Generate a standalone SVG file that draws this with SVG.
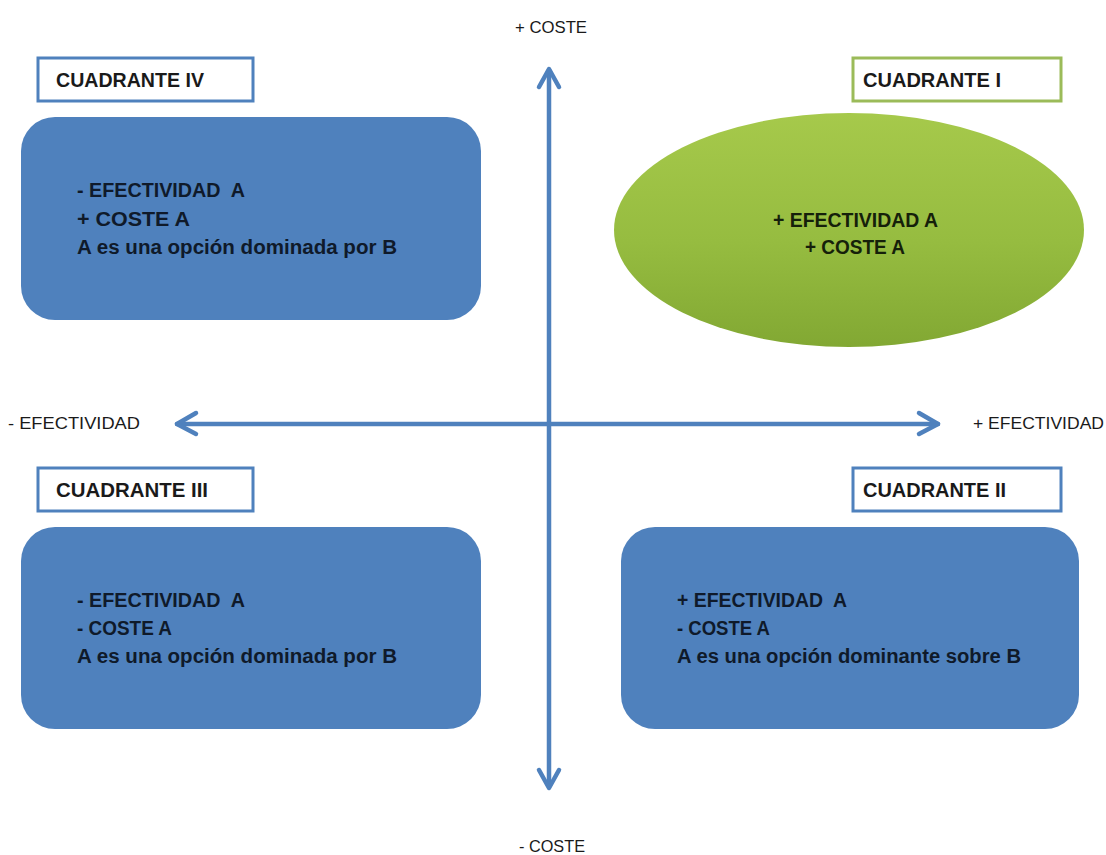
<svg xmlns="http://www.w3.org/2000/svg" width="1106" height="855" viewBox="0 0 1106 855">
  <style>
    .axis { fill: none; stroke: #4f81bd; stroke-width: 4.5; stroke-linecap: round; stroke-linejoin: round; }
    .axis-label { font-family: "Liberation Sans", Arial, sans-serif; font-size: 16.5px; fill: #1a1a1a; }
    .tag { fill: #ffffff; stroke-width: 3; }
    .tag-blue { stroke: #4f81bd; }
    .tag-green { stroke: #9bbb59; }
    .tag-text { font-family: "Liberation Sans", Arial, sans-serif; font-size: 20px; font-weight: bold; fill: #1a1a1a; }
    .panel { fill: #4f81bd; }
    .body { font-family: "Liberation Sans", Arial, sans-serif; font-size: 20px; font-weight: bold; fill: #0f1a2a; }
    .body-green { font-family: "Liberation Sans", Arial, sans-serif; font-size: 20px; font-weight: bold; fill: #15200a; }
  </style>
  <defs>
    <linearGradient id="greenFill" x1="0" y1="0" x2="0" y2="1">
      <stop offset="0" stop-color="#a6c94b"/>
      <stop offset="0.55" stop-color="#96bc40"/>
      <stop offset="1" stop-color="#82a833"/>
    </linearGradient>
  </defs>

  <rect width="1106" height="855" fill="#ffffff"/>

  <!-- axes -->
  <g id="connectors">
    <line class="axis" x1="549" y1="70" x2="549" y2="787"/>
    <polyline class="axis" points="539,87 549,69 559,87"/>
    <polyline class="axis" points="539,770 549,788 559,770"/>
    <line class="axis" x1="177" y1="424" x2="938" y2="424"/>
    <polyline class="axis" points="196,413 177,424 196,434"/>
    <polyline class="axis" points="919,413 938,424 919,434"/>
  </g>

  <!-- axis labels -->
  <g id="axis-labels">
    <text class="axis-label" x="515" y="33" textLength="72" lengthAdjust="spacingAndGlyphs">+ COSTE</text>
    <text class="axis-label" x="519" y="852" textLength="66" lengthAdjust="spacingAndGlyphs">- COSTE</text>
    <text class="axis-label" x="8" y="429" textLength="132" lengthAdjust="spacingAndGlyphs">- EFECTIVIDAD</text>
    <text class="axis-label" x="973" y="429" textLength="131" lengthAdjust="spacingAndGlyphs">+ EFECTIVIDAD</text>
  </g>

  <!-- quadrant IV -->
  <g id="cuadrante-iv">
    <rect class="tag tag-blue" x="38" y="58" width="215" height="43"/>
    <text class="tag-text" x="56" y="87" textLength="148" lengthAdjust="spacingAndGlyphs">CUADRANTE IV</text>
    <rect class="panel" x="21" y="117" width="460" height="203" rx="34"/>
    <text class="body" x="77" y="197" textLength="168" lengthAdjust="spacingAndGlyphs" xml:space="preserve">- EFECTIVIDAD  A</text>
    <text class="body" x="77" y="226" textLength="113" lengthAdjust="spacingAndGlyphs">+ COSTE A</text>
    <text class="body" x="77" y="254" textLength="320" lengthAdjust="spacingAndGlyphs">A es una opción dominada por B</text>
  </g>

  <!-- quadrant I -->
  <g id="cuadrante-i">
    <rect class="tag tag-green" x="853" y="58" width="208" height="43"/>
    <text class="tag-text" x="863" y="87" textLength="138" lengthAdjust="spacingAndGlyphs">CUADRANTE I</text>
    <ellipse cx="849" cy="230" rx="235" ry="117" fill="url(#greenFill)"/>
    <text class="body-green" x="773" y="227" textLength="165" lengthAdjust="spacingAndGlyphs">+ EFECTIVIDAD A</text>
    <text class="body-green" x="805" y="254" textLength="100" lengthAdjust="spacingAndGlyphs">+ COSTE A</text>
  </g>

  <!-- quadrant III -->
  <g id="cuadrante-iii">
    <rect class="tag tag-blue" x="38" y="468" width="215" height="43"/>
    <text class="tag-text" x="56" y="497" textLength="152" lengthAdjust="spacingAndGlyphs">CUADRANTE III</text>
    <rect class="panel" x="21" y="527" width="460" height="202" rx="34"/>
    <text class="body" x="77" y="607" textLength="168" lengthAdjust="spacingAndGlyphs" xml:space="preserve">- EFECTIVIDAD  A</text>
    <text class="body" x="77" y="635" textLength="95" lengthAdjust="spacingAndGlyphs">- COSTE A</text>
    <text class="body" x="77" y="663" textLength="320" lengthAdjust="spacingAndGlyphs">A es una opción dominada por B</text>
  </g>

  <!-- quadrant II -->
  <g id="cuadrante-ii">
    <rect class="tag tag-blue" x="853" y="468" width="208" height="43"/>
    <text class="tag-text" x="863" y="497" textLength="143" lengthAdjust="spacingAndGlyphs">CUADRANTE II</text>
    <rect class="panel" x="621" y="527" width="458" height="202" rx="34"/>
    <text class="body" x="677" y="607" textLength="170" lengthAdjust="spacingAndGlyphs" xml:space="preserve">+ EFECTIVIDAD  A</text>
    <text class="body" x="677" y="635" textLength="93" lengthAdjust="spacingAndGlyphs">- COSTE A</text>
    <text class="body" x="677" y="663" textLength="344" lengthAdjust="spacingAndGlyphs">A es una opción dominante sobre B</text>
  </g>
</svg>
